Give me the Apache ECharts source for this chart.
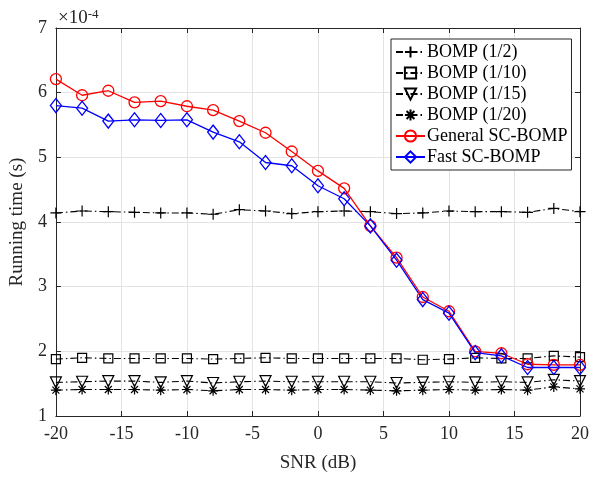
<!DOCTYPE html>
<html>
<head>
<meta charset="utf-8">
<script src="https://cdn.jsdelivr.net/npm/echarts@6/dist/echarts.min.js"></script>
<style>
  html, body { margin: 0; padding: 0; background: #fff; }
  #chart { width: 603px; height: 481px; }
</style>
</head>
<body>
<div id="chart"></div>
<script>
// SNR points (dB) and running time, in units of 1e-4 s
const snr = [-20, -18, -16, -14, -12, -10, -8, -6, -4, -2, 0, 2, 4, 6, 8, 10, 12, 14, 16, 18, 20]
const bomp2 = [4.14, 4.17, 4.16, 4.15, 4.14, 4.14, 4.12, 4.19, 4.17, 4.13, 4.16, 4.17, 4.16, 4.13, 4.14, 4.17, 4.16, 4.16, 4.15, 4.21, 4.16]
const bomp10 = [1.88, 1.90, 1.89, 1.89, 1.89, 1.89, 1.88, 1.89, 1.90, 1.89, 1.89, 1.89, 1.89, 1.89, 1.87, 1.88, 1.90, 1.89, 1.89, 1.93, 1.91]
const bomp15 = [1.52, 1.53, 1.54, 1.54, 1.52, 1.54, 1.51, 1.53, 1.54, 1.53, 1.53, 1.53, 1.53, 1.51, 1.52, 1.53, 1.52, 1.53, 1.52, 1.56, 1.54]
const bomp20 = [1.40, 1.41, 1.41, 1.41, 1.40, 1.41, 1.39, 1.41, 1.41, 1.40, 1.41, 1.41, 1.40, 1.39, 1.40, 1.41, 1.40, 1.41, 1.40, 1.45, 1.42]
const generalSC = [6.21, 5.96, 6.03, 5.85, 5.87, 5.79, 5.73, 5.56, 5.38, 5.09, 4.79, 4.52, 3.94, 3.45, 2.84, 2.62, 2.00, 1.97, 1.80, 1.79, 1.79]
const fastSC = [5.80, 5.76, 5.56, 5.58, 5.57, 5.58, 5.39, 5.24, 4.92, 4.87, 4.56, 4.36, 3.94, 3.41, 2.80, 2.59, 1.98, 1.93, 1.75, 1.75, 1.75]
const seriesNames = ['BOMP (1/2)', 'BOMP (1/10)', 'BOMP (1/15)', 'BOMP (1/20)', 'General SC-BOMP', 'Fast SC-BOMP']

const font = 'Liberation Serif'
const axisColor = '#262626'
const dashDot = [7, 3, 1.5, 3]

const plusPath = 'path://M5,0L5,10M0,5L10,5'
const starPath = 'path://M5,0L5,10M0,5L10,5M1.5,1.5L8.5,8.5M8.5,1.5L1.5,8.5'

function pairs(vals) {
  return snr.map((x, i) => [x, vals[i]])
}

function blackSeries(name, vals, symbol, size, rotate) {
  return {
    name: name,
    type: 'line',
    data: pairs(vals),
    symbol: symbol,
    symbolSize: size,
    symbolRotate: rotate || 0,
    showAllSymbol: true,
    lineStyle: { color: '#000', width: 1.1, type: dashDot },
    itemStyle: { color: 'rgba(0,0,0,0)', borderColor: '#000', borderWidth: 1.2 },
    emphasis: { disabled: true },
  }
}

const chart = echarts.init(document.getElementById('chart'))

chart.setOption({
  animation: false,
  backgroundColor: '#fff',
  grid: { left: 54, right: 23, top: 28, bottom: 65 },
  title: {
    text: '×10{sup|-4}',
    left: 53,
    top: 3,
    textStyle: {
      fontFamily: font,
      fontSize: 19,
      fontWeight: 'normal',
      color: axisColor,
      rich: { sup: { fontFamily: font, fontSize: 13, color: axisColor, verticalAlign: 'top', padding: [0, 0, 8, 0] } },
    },
  },
  legend: {
    data: seriesNames,
    orient: 'vertical',
    left: 391,
    top: 39,
    backgroundColor: '#fff',
    borderColor: axisColor,
    borderWidth: 1,
    borderRadius: 0,
    padding: [4, 4, 4, 4],
    itemGap: 3,
    itemWidth: 29,
    itemHeight: 14,
    textStyle: { fontFamily: font, fontSize: 18, color: '#000', padding: [0, 0, 0, -3] },
  },
  xAxis: [
    {
      type: 'value',
      min: -20,
      max: 20,
      interval: 5,
      name: 'SNR (dB)',
      nameLocation: 'middle',
      nameGap: 38,
      nameTextStyle: { fontFamily: font, fontSize: 19, color: axisColor },
      axisLine: { onZero: false, lineStyle: { color: axisColor, width: 1 } },
      axisTick: { inside: true, length: 5, lineStyle: { color: axisColor } },
      axisLabel: { fontFamily: font, fontSize: 18, color: axisColor, margin: 9 },
      splitLine: { show: true, lineStyle: { color: '#e3e3e3', width: 1 } },
    },
    {
      type: 'value',
      position: 'top',
      min: -20,
      max: 20,
      interval: 5,
      axisLine: { show: true, onZero: false, lineStyle: { color: axisColor, width: 1 } },
      axisTick: { inside: true, length: 5, lineStyle: { color: axisColor } },
      axisLabel: { show: false },
      splitLine: { show: false },
    },
  ],
  yAxis: [
    {
      type: 'value',
      min: 1,
      max: 7,
      interval: 1,
      name: 'Running time (s)',
      nameLocation: 'middle',
      nameGap: 25,
      nameTextStyle: { fontFamily: font, fontSize: 19, color: axisColor },
      axisLine: { show: true, onZero: false, lineStyle: { color: axisColor, width: 1 } },
      axisTick: { show: true, inside: true, length: 5, lineStyle: { color: axisColor } },
      axisLabel: { fontFamily: font, fontSize: 18, color: axisColor, margin: 9 },
      splitLine: { show: true, lineStyle: { color: '#e3e3e3', width: 1 } },
    },
    {
      type: 'value',
      position: 'right',
      min: 1,
      max: 7,
      interval: 1,
      axisLine: { show: true, onZero: false, lineStyle: { color: axisColor, width: 1 } },
      axisTick: { show: true, inside: true, length: 5, lineStyle: { color: axisColor } },
      axisLabel: { show: false },
      splitLine: { show: false },
    },
  ],
  series: [
    blackSeries(seriesNames[0], bomp2, plusPath, 11),
    blackSeries(seriesNames[1], bomp10, 'rect', 9),
    blackSeries(seriesNames[2], bomp15, 'triangle', 11, 180),
    blackSeries(seriesNames[3], bomp20, starPath, 10),
    {
      name: seriesNames[4],
      type: 'line',
      data: pairs(generalSC),
      symbol: 'circle',
      symbolSize: 11,
      showAllSymbol: true,
      lineStyle: { color: '#ff0000', width: 1.3 },
      itemStyle: { color: 'rgba(0,0,0,0)', borderColor: '#ff0000', borderWidth: 1.3 },
      emphasis: { disabled: true },
    },
    {
      name: seriesNames[5],
      type: 'line',
      data: pairs(fastSC),
      symbol: 'diamond',
      symbolSize: [11, 14],
      showAllSymbol: true,
      lineStyle: { color: '#0000ff', width: 1.3 },
      itemStyle: { color: 'rgba(0,0,0,0)', borderColor: '#0000ff', borderWidth: 1.3 },
      emphasis: { disabled: true },
    },
  ],
})
</script>
</body>
</html>
